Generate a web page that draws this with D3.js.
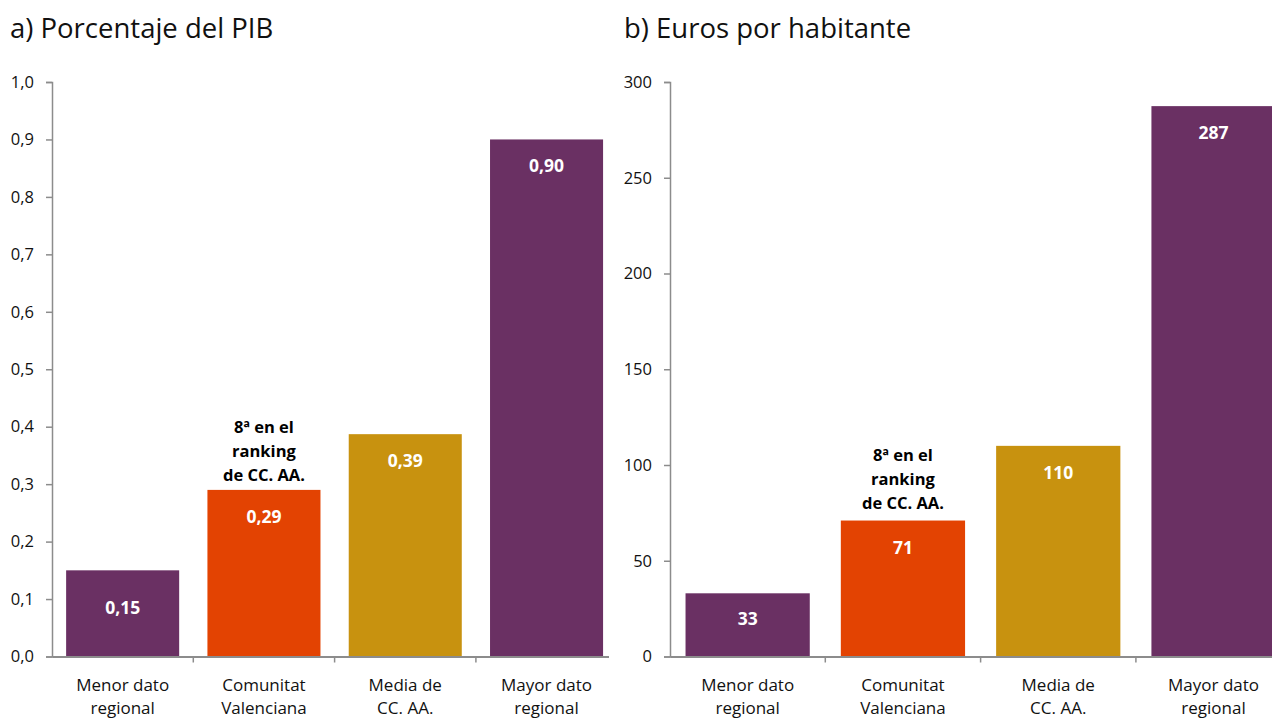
<!DOCTYPE html>
<html>
<head>
<meta charset="utf-8">
<script src="https://cdn.jsdelivr.net/npm/d3@7"></script>
<style>
  body { margin: 0; background: #fff; }
  svg { display: block; font-family: "Open Sans", "Noto Sans", sans-serif; }
</style>
</head>
<body>
<div id="chart"></div>
<script>
// data
var categories = [ 'Menor dato|regional', 'Comunitat|Valenciana', 'Media de|CC. AA.', 'Mayor dato|regional' ];
var pibValues = [ 0.15, 0.29, 0.387, 0.90 ];
var pibTicks = [ 0, 0.1, 0.2, 0.3, 0.4, 0.5, 0.6, 0.7, 0.8, 0.9, 1.0 ];
var habValues = [ 33, 71, 110, 287.4 ];
var habTicks = [ 0, 50, 100, 150, 200, 250, 300 ];
var barColors = [ '#6a3063', '#e34302', '#c8920f', '#6a3063' ];
var rankNote = [ '8ª en el', 'ranking', 'de CC. AA.' ];

var width = 1272, height = 719;
var axisColor = '#8c8c8c';

var svg = d3.select( '#chart' ).append( 'svg' )
  .attr( 'width', width )
  .attr( 'height', height );

var comma = d3.formatLocale( { decimal: ',', thousands: '.', grouping: [ 3 ], currency: [ '', '€' ] } );

function panel( opts ) {
  var g = svg.append( 'g' );

  var clipId = 'clip-' + opts.id;
  svg.append( 'clipPath' ).attr( 'id', clipId )
    .append( 'rect' )
    .attr( 'x', 0 ).attr( 'y', 0 )
    .attr( 'width', opts.clipRight ).attr( 'height', height );

  g.append( 'text' )
    .attr( 'x', opts.titleX )
    .attr( 'y', 38 )
    .attr( 'font-size', '27.5px' )
    .attr( 'fill', '#111' )
    .text( opts.title );

  var x = d3.scaleBand()
    .domain( categories )
    .range( [ opts.x0, opts.x0 + opts.step * categories.length ] )
    .paddingInner( 0.2 )
    .paddingOuter( 0.1 );

  var y = d3.scaleLinear()
    .domain( [ 0, opts.max ] )
    .range( [ 656.5, 82 ] );

  var plot = g.append( 'g' ).attr( 'clip-path', 'url(#' + clipId + ')' );

  plot.selectAll( '.bar' )
    .data( opts.values )
    .enter()
    .append( 'rect' )
    .attr( 'class', 'bar' )
    .attr( 'x', function( d, i ) { return x( categories[ i ] ); } )
    .attr( 'y', function( d ) { return y( d ); } )
    .attr( 'width', x.bandwidth() )
    .attr( 'height', function( d ) { return y( 0 ) - y( d ); } )
    .attr( 'fill', function( d, i ) { return barColors[ i ]; } );

  plot.selectAll( '.val' )
    .data( opts.values )
    .enter()
    .append( 'text' )
    .attr( 'class', 'val' )
    .attr( 'x', function( d, i ) { return x( categories[ i ] ) + x.bandwidth() / 2; } )
    .attr( 'y', function( d ) {
      var h = y( 0 ) - y( d );
      return h < 100 ? ( y( d ) + y( 0 ) ) / 2 + 0.5 : y( d ) + 33;
    } )
    .attr( 'text-anchor', 'middle' )
    .attr( 'font-size', '17.5px' )
    .attr( 'font-weight', 'bold' )
    .attr( 'fill', '#fff' )
    .text( function( d ) { return opts.fmt( d ); } );

  // annotation over Comunitat Valenciana
  var cv = categories[ 1 ];
  var note = g.append( 'text' )
    .attr( 'text-anchor', 'middle' )
    .attr( 'font-size', '16.5px' )
    .attr( 'font-weight', 'bold' )
    .attr( 'fill', '#000' );
  rankNote.forEach( function( line, i ) {
    note.append( 'tspan' )
      .attr( 'x', x( cv ) + x.bandwidth() / 2 )
      .attr( 'y', y( opts.values[ 1 ] ) - opts.noteGap - ( rankNote.length - 1 - i ) * 24 )
      .text( line );
  } );

  // y axis
  var yAxis = g.append( 'g' )
    .attr( 'transform', 'translate(' + opts.x0 + ',0)' )
    .call( d3.axisLeft( y ).tickValues( opts.ticks ).tickFormat( opts.tickFmt ).tickSize( 6 ).tickPadding( 12 ) );
  yAxis.selectAll( 'path, line' ).attr( 'stroke', axisColor ).attr( 'stroke-width', 1.5 );
  yAxis.selectAll( 'text' ).attr( 'font-size', '16.5px' ).attr( 'fill', '#111' ).attr( 'font-family', '"Open Sans", sans-serif' );

  // x axis
  var xAxis = plot.append( 'g' )
    .attr( 'transform', 'translate(0,' + y( 0 ) + ')' )
    .call( d3.axisBottom( x ).tickSize( 0 ).tickFormat( '' ) );
  xAxis.select( '.domain' ).attr( 'stroke', axisColor ).attr( 'stroke-width', 2 );
  xAxis.selectAll( '.tick line' ).remove();

  plot.selectAll( '.xtick' )
    .data( categories )
    .enter()
    .append( 'line' )
    .attr( 'class', 'xtick' )
    .attr( 'x1', function( d ) { return x( d ) + x.bandwidth() + x.step() * 0.1; } )
    .attr( 'x2', function( d ) { return x( d ) + x.bandwidth() + x.step() * 0.1; } )
    .attr( 'y1', y( 0 ) )
    .attr( 'y2', y( 0 ) + 6 )
    .attr( 'stroke', axisColor )
    .attr( 'stroke-width', 1.5 );

  categories.forEach( function( c ) {
    var t = g.append( 'text' )
      .attr( 'text-anchor', 'middle' )
      .attr( 'font-size', '17px' )
      .attr( 'fill', '#111' );
    c.split( '|' ).forEach( function( line, i ) {
      t.append( 'tspan' )
        .attr( 'x', x( c ) + x.bandwidth() / 2 )
        .attr( 'y', 691 + i * 23 )
        .text( line );
    } );
  } );
}

panel( {
  id: 'pib',
  title: 'a) Porcentaje del PIB',
  titleX: 10,
  x0: 52,
  step: 141.3,
  max: 1.0,
  values: pibValues,
  ticks: pibTicks,
  clipRight: 609,
  noteGap: 9,
  fmt: comma.format( '.2f' ),
  tickFmt: comma.format( '.1f' )
} );

panel( {
  id: 'hab',
  title: 'b) Euros por habitante',
  titleX: 624,
  x0: 670,
  step: 155.3,
  max: 300,
  values: habValues,
  ticks: habTicks,
  clipRight: 1272,
  noteGap: 12,
  fmt: comma.format( '.0f' ),
  tickFmt: comma.format( 'd' )
} );
</script>
</body>
</html>
